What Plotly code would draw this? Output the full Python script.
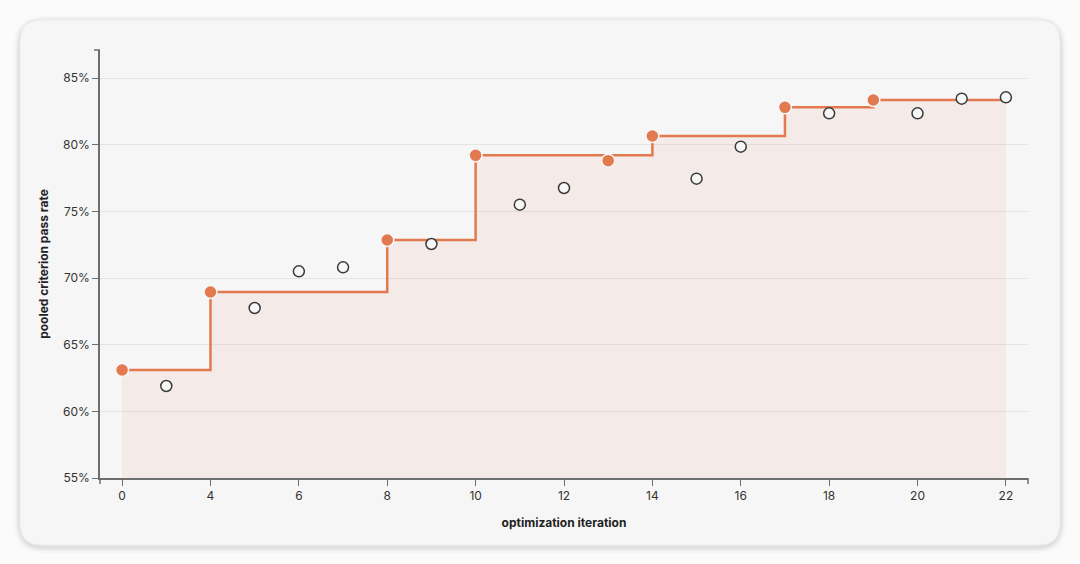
import plotly.graph_objects as go

# ---- data ----
iterations = ["0", "2", "4", "5", "6", "7", "8", "9", "10", "11", "12",
              "13", "14", "15", "16", "17", "18", "19", "20", "21", "22"]

best_x = ["0", "4", "8", "10", "13", "14", "17", "19"]
best_y = [63.1, 68.95, 72.85, 79.2, 78.8, 80.65, 82.8, 83.35]

other_x = ["2", "5", "6", "7", "9", "11", "12", "15", "16", "18", "20", "21", "22"]
other_y = [61.9, 67.75, 70.5, 70.8, 72.55, 75.5, 76.75, 77.45, 79.85, 82.35, 82.35, 83.45, 83.55]

step_x = ["0", "4", "8", "10", "14", "17", "19", "22"]
step_y = [63.1, 68.95, 72.85, 79.2, 80.65, 82.8, 83.35, 83.35]

x_tickvals = ["0", "4", "6", "8", "10", "12", "14", "16", "18", "20", "22"]
y_tickvals = [55, 60, 65, 70, 75, 80, 85]
y_ticktext = ["55%", "60%", "65%", "70%", "75%", "80%", "85%"]

# ---- style ----
ORANGE = "#e2794f"
AXIS = "#6e6e6e"
W, H = 1080, 564
L, R, T, B = 100, 52, 50, 86
PW, PH = W - L - R, H - T - B


def fx(px):
    return (px - L) / PW


def fy(py):
    return (H - B - py) / PH


def rounded(x0, y0, x1, y1, r):
    rx, ry = r / PW, r / PH
    a, b, c, d = fx(x0), fy(y1), fx(x1), fy(y0)
    return (f"M {a+rx},{b} L {c-rx},{b} Q {c},{b} {c},{b+ry} "
            f"L {c},{d-ry} Q {c},{d} {c-rx},{d} L {a+rx},{d} "
            f"Q {a},{d} {a},{d-ry} L {a},{b+ry} Q {a},{b} {a+rx},{b} Z")


fig = go.Figure()

fig.add_trace(go.Scatter(
    x=step_x, y=step_y, mode="lines", line=dict(shape="hv", color=ORANGE, width=2.5),
    fill="tozeroy", fillcolor="rgba(232,140,105,0.11)", hoverinfo="skip", showlegend=False))

fig.add_trace(go.Scatter(
    x=other_x, y=other_y, mode="markers",
    marker=dict(size=11, color="#f7f7f7", line=dict(color="#3a3a3a", width=1.5)),
    showlegend=False))

fig.add_trace(go.Scatter(
    x=best_x, y=best_y, mode="markers",
    marker=dict(size=13, color=ORANGE, line=dict(color="#f7f7f7", width=1.5)),
    showlegend=False))

shapes = []
# card shadow + card
for i, op in enumerate([0.025, 0.035, 0.05]):
    g = 6 - 2 * i
    shapes.append(dict(type="path", xref="paper", yref="paper", layer="below",
                       path=rounded(20 - g, 20 - g + 2, 1060 + g, 545 + g + 2, 24 + g),
                       fillcolor=f"rgba(0,0,0,{op})", line=dict(width=0)))
shapes.append(dict(type="path", xref="paper", yref="paper", layer="below",
                   path=rounded(20, 20, 1060, 545, 22),
                   fillcolor="#f6f6f6", line=dict(color="#ececec", width=1)))
# outer end ticks of the axes
shapes.append(dict(type="line", xref="paper", yref="paper", xsizemode="pixel", xanchor=0,
                   x0=0, x1=-6, y0=1, y1=1, line=dict(color=AXIS, width=1.5)))
for xp in (0, 1):
    shapes.append(dict(type="line", xref="paper", yref="paper", ysizemode="pixel", yanchor=0,
                       x0=xp, x1=xp, y0=0, y1=-6, line=dict(color=AXIS, width=1.5)))

fig.update_layout(
    width=W, height=H,
    margin=dict(l=L, r=R, t=T, b=B),
    paper_bgcolor="#fbfbfb", plot_bgcolor="rgba(0,0,0,0)",
    font=dict(family="Inter, Helvetica, Arial, sans-serif", size=12, color="#333"),
    shapes=shapes,
    xaxis=dict(type="category", categoryorder="array", categoryarray=iterations,
               range=[-0.5, len(iterations) - 0.5], tickvals=x_tickvals,
               showgrid=False, zeroline=False, showline=True, linecolor=AXIS, linewidth=1.5,
               ticks="outside", ticklen=6, tickwidth=1, tickcolor=AXIS,
               tickfont=dict(size=12, color="#333"),
               title=dict(text="<b>optimization iteration</b>", font=dict(size=12, color="#222"), standoff=16)),
    yaxis=dict(range=[55, 87.1], tickvals=y_tickvals, ticktext=y_ticktext,
               showgrid=True, gridcolor="#e4e4e4", gridwidth=1, zeroline=False,
               showline=True, linecolor=AXIS, linewidth=1.5,
               ticks="outside", ticklen=6, tickwidth=1, tickcolor=AXIS,
               tickfont=dict(size=12, color="#333"),
               title=dict(text="<b>pooled criterion pass rate</b>", font=dict(size=12, color="#222"), standoff=12)),
)

fig.write_html("out.html")
